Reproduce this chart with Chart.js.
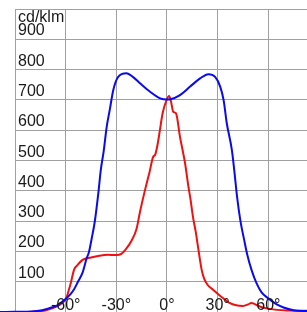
<!DOCTYPE html>
<html><head><meta charset="utf-8">
<script src="https://cdn.jsdelivr.net/npm/chart.js@4/dist/chart.umd.min.js"></script>
<style>html,body{margin:0;padding:0;background:#fff}#w{width:307px;height:312px}</style>
</head><body><div id="w"><canvas id="c"></canvas></div>
<script>
const unitLabel = "cd/klm";
const xTicks = [-90, -60, -30, 0, 30, 60];
const xTickLabels = ["", "-60°", "-30°", "0°", "30°", "60°"];
const yTicks = [100, 200, 300, 400, 500, 600, 700, 800, 900, 1000];
const yTickLabels = ["100", "200", "300", "400", "500", "600", "700", "800", "900", ""];

const blueAngles = [-99,-90,-80,-74,-70,-65,-60.6,-57,-55,-52.8,-50,-47.7,-46.2,-44.5,-42.8,-40.5,-39.2,-37.5,-35.7,-33.9,-31.8,-28.9,-24,-20,-16,-10,-4,0,2,7.7,13.7,19.6,24.5,28.5,31.5,33.5,35.4,38.4,39.8,41.5,43.5,45.7,47.5,50,53,56,60,65,69,75,83];
const blueValues = [0,1,2,6,12,22,40,60,75,99,130,175,198,245,297,400,469,530,611,667,733,776,788,775,755,727,705,701,702,716,744,771,785,776,744,700,623,535,469,380,300,238,190,140,95,65,45,25,15,6,3];

const redAngles = [-99,-90,-80,-72,-68,-64,-61,-59.6,-58,-57,-55,-53,-50,-45,-40,-35,-30,-27,-24,-21,-18,-16,-14.4,-13,-10.5,-8.1,-7.1,-5.8,-4.2,-2.6,-0.2,1.2,2.2,3.7,5.3,7.7,10.7,12.7,13.7,15.5,17,18.5,20.5,22,24,27,30,34,37,41,45,48,50,52,55,59,65,72,83];
const redValues = [0,0,1,5,12,22,35,46,75,95,140,155,172,180,186,189,188,192,210,235,275,330,370,403,458,513,518,546,600,656,700,713,700,661,656,578,491,413,380,310,265,210,140,110,90,75,60,42,30,22,20,25,30,26,18,12,7,5,4];

function pts(xs, ys){ return xs.map((x,i)=>({x:x, y:ys[i]})); }

const labelPlugin = {
  id: 'labels',
  afterDatasetsDraw(chart){
    const ctx = chart.ctx, xs = chart.scales.x, ys = chart.scales.y;
    ctx.save();
    ctx.font = '16px "Liberation Sans", Arial, sans-serif';
    ctx.fillStyle = '#1a1a1a';
    ctx.textAlign = 'left';
    ctx.textBaseline = 'alphabetic';
    const lx = chart.chartArea.left + 3;
    yTicks.forEach((v,i)=>{
      if (yTickLabels[i]) ctx.fillText(yTickLabels[i], lx, ys.getPixelForValue(v) - 4);
    });
    ctx.fillText(unitLabel, lx, ys.getPixelForValue(900) - 17);
    ctx.textAlign = 'center';
    xTicks.forEach((v,i)=>{
      if (xTickLabels[i]) ctx.fillText(xTickLabels[i], xs.getPixelForValue(v), chart.chartArea.bottom - 2);
    });
    ctx.restore();
  }
};

new Chart(document.getElementById('c'), {
  type: 'line',
  data: {
    datasets: [
      { data: pts(blueAngles, blueValues), borderColor: '#0a0af0', borderWidth: 2, pointRadius: 0, cubicInterpolationMode: 'monotone', clip: false, fill: false },
      { data: pts(redAngles, redValues), borderColor: '#f01010', borderWidth: 2, pointRadius: 0, cubicInterpolationMode: 'monotone', clip: false, fill: false }
    ]
  },
  options: {
    responsive: true, maintainAspectRatio: false, animation: false,
    layout: { padding: { left: 15, top: 9, right: 0, bottom: 0 } },
    plugins: { legend: { display: false }, tooltip: { enabled: false } },
    scales: {
      x: {
        type: 'linear', min: -90, max: 82.9,
        afterBuildTicks: s => { s.ticks = xTicks.map(v => ({ value: v })); },
        ticks: { display: false },
        grid: { color: '#a0a0a0', lineWidth: 1, drawTicks: false },
        border: { display: false }
      },
      y: {
        type: 'linear', min: 0, max: 1000,
        afterBuildTicks: s => { s.ticks = yTicks.map(v => ({ value: v })); },
        ticks: { display: false },
        grid: { color: '#a0a0a0', lineWidth: 1, drawTicks: false },
        border: { display: false }
      }
    }
  },
  plugins: [labelPlugin]
});
</script>
</body></html>
